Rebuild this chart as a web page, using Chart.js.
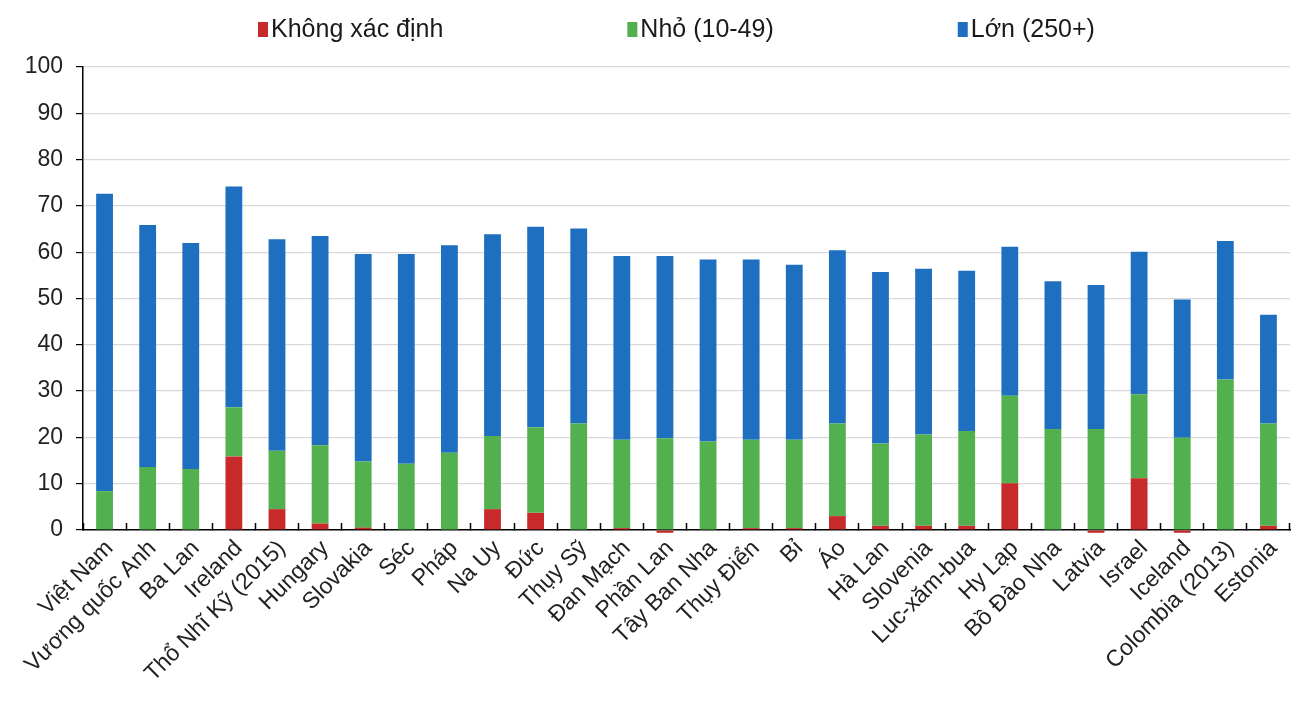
<!DOCTYPE html>
<html>
<head>
<meta charset="utf-8">
<script src="https://cdn.jsdelivr.net/npm/chart.js@4.4.1/dist/chart.umd.min.js"></script>
<style>
  html, body { margin: 0; padding: 0; background: #fff; }
  #wrap { width: 1291px; height: 702px; }
</style>
</head>
<body>
<div id="wrap"><canvas id="myChart"></canvas></div>
<script>
// du lieu doc tu hinh
const countries = ['Việt Nam', 'Vương quốc Anh', 'Ba Lan', 'Ireland', 'Thổ Nhĩ Kỹ (2015)', 'Hungary',
    'Slovakia', 'Séc', 'Pháp', 'Na Uy', 'Đức', 'Thụy Sỹ', 'Đan Mạch', 'Phần Lan', 'Tây Ban Nha',
    'Thụy Điển', 'Bỉ', 'Áo', 'Hà Lan', 'Slovenia', 'Luc-xăm-bua', 'Hy Lạp', 'Bồ Đào Nha', 'Latvia',
    'Israel', 'Iceland', 'Colombia (2013)', 'Estonia'];
const unknown = [0, 0, 0, 15.9, 4.5, 1.4, 0.5, 0, 0, 4.5, 3.7, 0, 0.4, -0.6, 0, 0.4, 0.4, 3.0, 0.9, 0.9,
    0.9, 10.1, 0, -0.6, 11.2, -0.6, 0, 0.9];
const small = [8.4, 13.6, 13.2, 10.6, 12.6, 16.9, 14.3, 14.3, 16.7, 15.8, 18.5, 23.0, 19.1, 19.8, 19.1,
    19.1, 19.1, 20.0, 17.8, 19.7, 20.5, 18.9, 21.8, 21.8, 18.1, 19.9, 32.5, 22.1];
const large = [64.2, 52.3, 48.8, 47.7, 45.7, 45.2, 44.8, 45.3, 44.8, 43.6, 43.3, 42.1, 39.7, 39.4, 39.3,
    38.9, 37.8, 37.4, 37.0, 35.8, 34.6, 32.2, 31.9, 31.1, 30.8, 29.9, 29.9, 23.5];
const seriesNames = ['Không xác định', 'Nhỏ (10-49)', 'Lớn (250+)'];
const yTicks = [0, 10, 20, 30, 40, 50, 60, 70, 80, 90, 100];

const colors = ['#c8292a', '#52b04e', '#1f6fc1'];
const FONT = '"Liberation Sans", Arial, sans-serif';

// chu giai ve tay cho giong hinh (khoang cach rong)
const topLegend = {
    id: 'topLegend',
    afterDraw(chart) {
        const ctx = chart.ctx;
        ctx.save();
        ctx.font = '25px ' + FONT;
        ctx.textBaseline = 'middle';
        let x = 258;
        const y = 30;
        chart.data.datasets.forEach(ds => {
            ctx.fillStyle = ds.backgroundColor;
            ctx.fillRect(x, y - 8, 10, 15);
            ctx.fillStyle = '#1a1a1a';
            ctx.fillText(ds.label, x + 13, y);
            x += 13 + ctx.measureText(ds.label).width + 184;
        });
        ctx.restore();
    }
};

const ctx = document.getElementById('myChart');
new Chart(ctx, {
    type: 'bar',
    data: {
        labels: countries,
        datasets: [
            {label: seriesNames[0], data: unknown, backgroundColor: colors[0], clip: false},
            {label: seriesNames[1], data: small, backgroundColor: colors[1], clip: false},
            {label: seriesNames[2], data: large, backgroundColor: colors[2], clip: false}
        ]
    },
    options: {
        responsive: true,
        maintainAspectRatio: false,
        animation: false,
        layout: {padding: {top: 67, left: 0, right: 1, bottom: 0}},
        datasets: {bar: {barPercentage: 0.39, categoryPercentage: 1}},
        plugins: {
            legend: {display: false},
            tooltip: {enabled: false}
        },
        scales: {
            x: {
                stacked: true,
                afterFit: s => { s.height = 172; s.paddingRight = 0; s.paddingLeft = 0; },
                border: {color: '#000', width: 1.5},
                grid: {offset: true, drawOnChartArea: false, tickLength: -7, tickColor: '#000', tickWidth: 1.5},
                ticks: {
                    autoSkip: false,
                    maxRotation: 45,
                    minRotation: 45,
                    padding: 12,
                    labelOffset: 5,
                    color: '#222',
                    font: {family: FONT, size: 23}
                }
            },
            y: {
                stacked: true,
                min: 0,
                max: 100,
                afterFit: s => { s.width = 83; s.paddingTop = 0; s.paddingBottom = 0; },
                afterBuildTicks: s => { s.ticks = yTicks.map(v => ({value: v})); },
                border: {color: '#000', width: 1.5},
                grid: {color: '#d9d9d9', lineWidth: 1.2, tickLength: 7, tickColor: '#000'},
                ticks: {
                    padding: 13,
                    color: '#222',
                    font: {family: FONT, size: 23}
                }
            }
        }
    },
    plugins: [topLegend]
});
</script>
</body>
</html>
